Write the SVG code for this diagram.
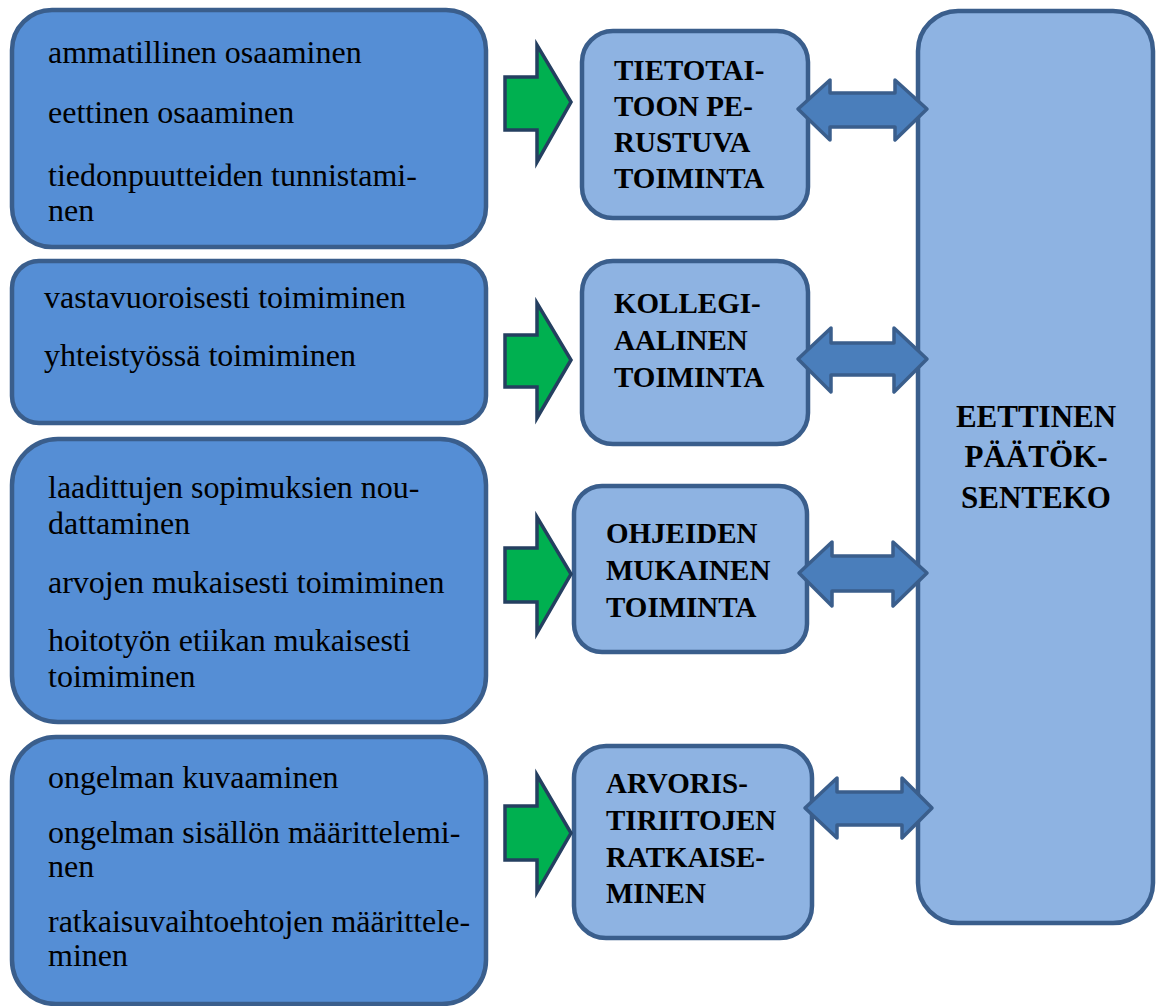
<svg xmlns="http://www.w3.org/2000/svg" width="1157" height="1006" viewBox="0 0 1157 1006">
<style>
.lb{fill:#558ED5;stroke:#3A5E8C;stroke-width:4.5}
.mb{fill:#8EB3E2;stroke:#3A5E8C;stroke-width:4.5}
.ga{fill:#00B050;stroke:#243F60;stroke-width:3.5;stroke-linejoin:miter}
.da{fill:#4A7EBB;stroke:#3A5E8C;stroke-width:3.5;stroke-linejoin:round}
text{font-family:'Liberation Serif','Times New Roman',Times,serif;fill:#000}
.t{font-size:32px}
.b{font-size:29px;font-weight:bold}
.r{font-size:31px;font-weight:bold;text-anchor:middle}
</style>
<rect width="1157" height="1006" fill="#fff"/>
<g id="n1">
<rect class="lb" x="12" y="10" width="474" height="237" rx="40"/>
<text class="t" x="48" y="63">ammatillinen osaaminen</text>
<text class="t" x="48" y="123">eettinen osaaminen</text>
<text class="t" x="48" y="186">tiedonpuutteiden tunnistami-</text>
<text class="t" x="48" y="221">nen</text>
</g>
<g id="n2">
<rect class="lb" x="12" y="261" width="474" height="162" rx="27"/>
<text class="t" x="44" y="308">vastavuoroisesti toimiminen</text>
<text class="t" x="44" y="366">yhteistyössä toimiminen</text>
</g>
<g id="n3">
<rect class="lb" x="12" y="439" width="474" height="283" rx="46"/>
<text class="t" x="48" y="498">laadittujen sopimuksien nou-</text>
<text class="t" x="48" y="534">dattaminen</text>
<text class="t" x="48" y="593">arvojen mukaisesti toimiminen</text>
<text class="t" x="48" y="651">hoitotyön etiikan mukaisesti</text>
<text class="t" x="48" y="687">toimiminen</text>
</g>
<g id="n4">
<rect class="lb" x="12" y="737" width="474" height="267" rx="44"/>
<text class="t" x="48" y="788">ongelman kuvaaminen</text>
<text class="t" x="48" y="843">ongelman sisällön määrittelemi-</text>
<text class="t" x="48" y="877">nen</text>
<text class="t" x="48" y="932">ratkaisuvaihtoehtojen määrittele-</text>
<text class="t" x="48" y="966">minen</text>
</g>
<g id="m1">
<rect class="mb" x="582" y="31" width="226" height="187" rx="31"/>
<text class="b" x="614" y="80">TIETOTAI-</text>
<text class="b" x="614" y="116">TOON PE-</text>
<text class="b" x="614" y="152">RUSTUVA</text>
<text class="b" x="614" y="188">TOIMINTA</text>
</g>
<g id="m2">
<rect class="mb" x="582" y="261" width="226" height="183" rx="31"/>
<text class="b" x="614" y="313">KOLLEGI-</text>
<text class="b" x="614" y="350">AALINEN</text>
<text class="b" x="614" y="387">TOIMINTA</text>
</g>
<g id="m3">
<rect class="mb" x="574" y="486" width="233" height="166" rx="28"/>
<text class="b" x="606" y="543">OHJEIDEN</text>
<text class="b" x="606" y="580">MUKAINEN</text>
<text class="b" x="606" y="617">TOIMINTA</text>
</g>
<g id="m4">
<rect class="mb" x="574" y="746" width="238" height="192" rx="32"/>
<text class="b" x="606" y="793">ARVORIS-</text>
<text class="b" x="606" y="830">TIRIITOJEN</text>
<text class="b" x="606" y="867">RATKAISE-</text>
<text class="b" x="606" y="903">MINEN</text>
</g>
<g id="r1">
<rect class="mb" x="918" y="11" width="235" height="912" rx="40"/>
<text class="r" x="1036" y="427">EETTINEN</text>
<text class="r" x="1036" y="467">PÄÄTÖK-</text>
<text class="r" x="1036" y="508">SENTEKO</text>
</g>
<g id="connectors">
<polygon class="ga" points="505,77 537,77 537,45 571,102 537,162 537,130 505,130"/>
<polygon class="ga" points="505,335 537,335 537,303 571,360 537,418 537,387 505,387"/>
<polygon class="ga" points="505,548 537,548 537,517 571,574 537,633 537,602 505,602"/>
<polygon class="ga" points="505,806 537,806 537,775 571,833 537,892 537,860 505,860"/>
<polygon class="da" points="798,109 830,80 830,93 895,93 895,80 927,109 895,140 895,127 830,127 830,140"/>
<polygon class="da" points="798,359 831,328 831,343 894,343 894,328 927,359 894,392 894,375 831,375 831,392"/>
<polygon class="da" points="799,573 832,542 832,556 893,556 893,542 927,573 893,606 893,591 832,591 832,606"/>
<polygon class="da" points="805,808 837,778 837,792 902,792 902,778 932,808 902,838 902,825 837,825 837,838"/>
</g>
</svg>
